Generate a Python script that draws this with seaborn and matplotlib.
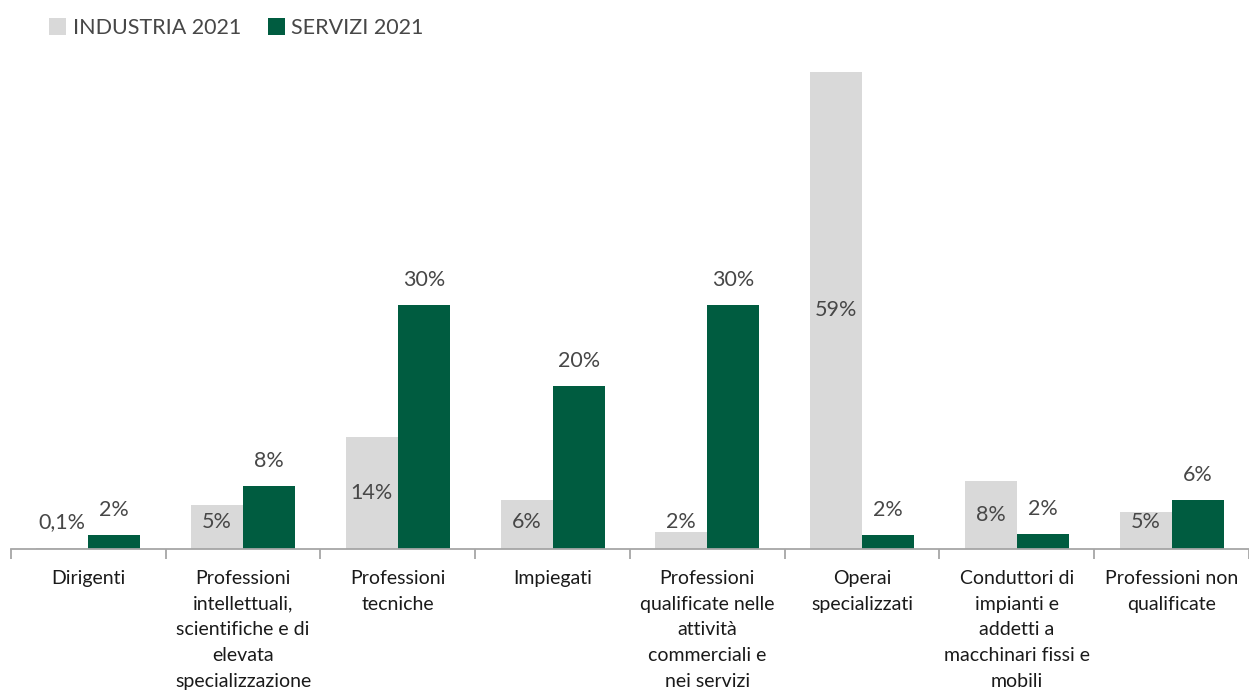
import matplotlib
matplotlib.use("Agg")
import matplotlib.pyplot as plt
from matplotlib.patches import Patch
from matplotlib.ticker import FixedLocator
import seaborn as sns
import pandas as pd

# Occupational groups (Italian labels, wrapped as in the report)
categories = [
    "Dirigenti",
    "Professioni\nintellettuali,\nscientifiche e di\nelevata\nspecializzazione",
    "Professioni\ntecniche",
    "Impiegati",
    "Professioni\nqualificate nelle\nattività\ncommerciali e\nnei servizi",
    "Operai\nspecializzati",
    "Conduttori di\nimpianti e\naddetti a\nmacchinari fissi e\nmobili",
    "Professioni non\nqualificate",
]
series_names = ["INDUSTRIA 2021", "SERVIZI 2021"]
industria = [0.1, 5.4, 13.8, 6.0, 2.1, 58.7, 8.4, 4.6]
servizi = [1.7, 7.7, 30.0, 20.0, 30.0, 1.7, 1.9, 6.0]

GREY = "#D9D9D9"
GREEN = "#005C40"
TEXT = "#474747"
DARK = "#1A1A1A"

df = pd.DataFrame({
    "categoria": categories * 2,
    "serie": [series_names[0]] * len(categories) + [series_names[1]] * len(categories),
    "quota": industria + servizi,
})

sns.set_theme(style="white")
plt.rcParams["font.family"] = ["Lato", "DejaVu Sans"]

fig = plt.figure(figsize=(12.49, 6.93), dpi=100)
ax = fig.add_axes([0.0088, 0.2078, 0.9912, 0.704])

sns.barplot(data=df, x="categoria", y="quota", hue="serie", order=categories,
            hue_order=series_names, palette=[GREY, GREEN], width=0.672,
            saturation=1, legend=False, linewidth=0, ax=ax)

ax.set_xlim(-0.5, 7.5)
ax.set_ylim(0, 60)
ax.set_xlabel("")
ax.set_ylabel("")
ax.set_yticks([])
for side in ("top", "right", "left"):
    ax.spines[side].set_visible(False)
ax.spines["bottom"].set_color("#A6A6A6")
ax.spines["bottom"].set_linewidth(1.3)

ax.tick_params(axis="x", which="major", length=0, pad=15, labelsize=14,
               labelcolor=DARK)
ax.xaxis.set_minor_locator(FixedLocator([i - 0.5 for i in range(len(categories) + 1)]))
ax.tick_params(axis="x", which="minor", bottom=True, length=7, width=1.3,
               color="#A6A6A6", direction="out")
for lab in ax.get_xticklabels():
    lab.set_linespacing(1.62)
    lab.set_va("top")


def fmt(v):
    if v < 1:
        return f"{v:.1f}".replace(".", ",") + "%"
    return f"{round(v):d}%"


bars_ind, bars_ser = ax.containers[0], ax.containers[1]
for rect, v in zip(bars_ind, industria):
    cx = rect.get_x() + rect.get_width() / 2
    ax.text(cx, max(v / 2, 3.3), fmt(v), ha="center", va="center",
            fontsize=15.5, color=TEXT)
for rect, v in zip(bars_ser, servizi):
    cx = rect.get_x() + rect.get_width() / 2
    ax.annotate(fmt(v), (cx, v), xytext=(0, 18), textcoords="offset points",
                ha="center", va="center", fontsize=15.5, color=TEXT)

handles = [Patch(facecolor=GREY, edgecolor="none"),
           Patch(facecolor=GREEN, edgecolor="none")]
fig.legend(handles, series_names, loc="upper left", bbox_to_anchor=(0.028, 0.994),
           ncol=2, frameon=False, fontsize=15.5, labelcolor=TEXT,
           handlelength=0.8, handleheight=0.8, handletextpad=0.3,
           columnspacing=1.25, borderaxespad=0.25)

fig.savefig("out.png", dpi=100, facecolor="white")
